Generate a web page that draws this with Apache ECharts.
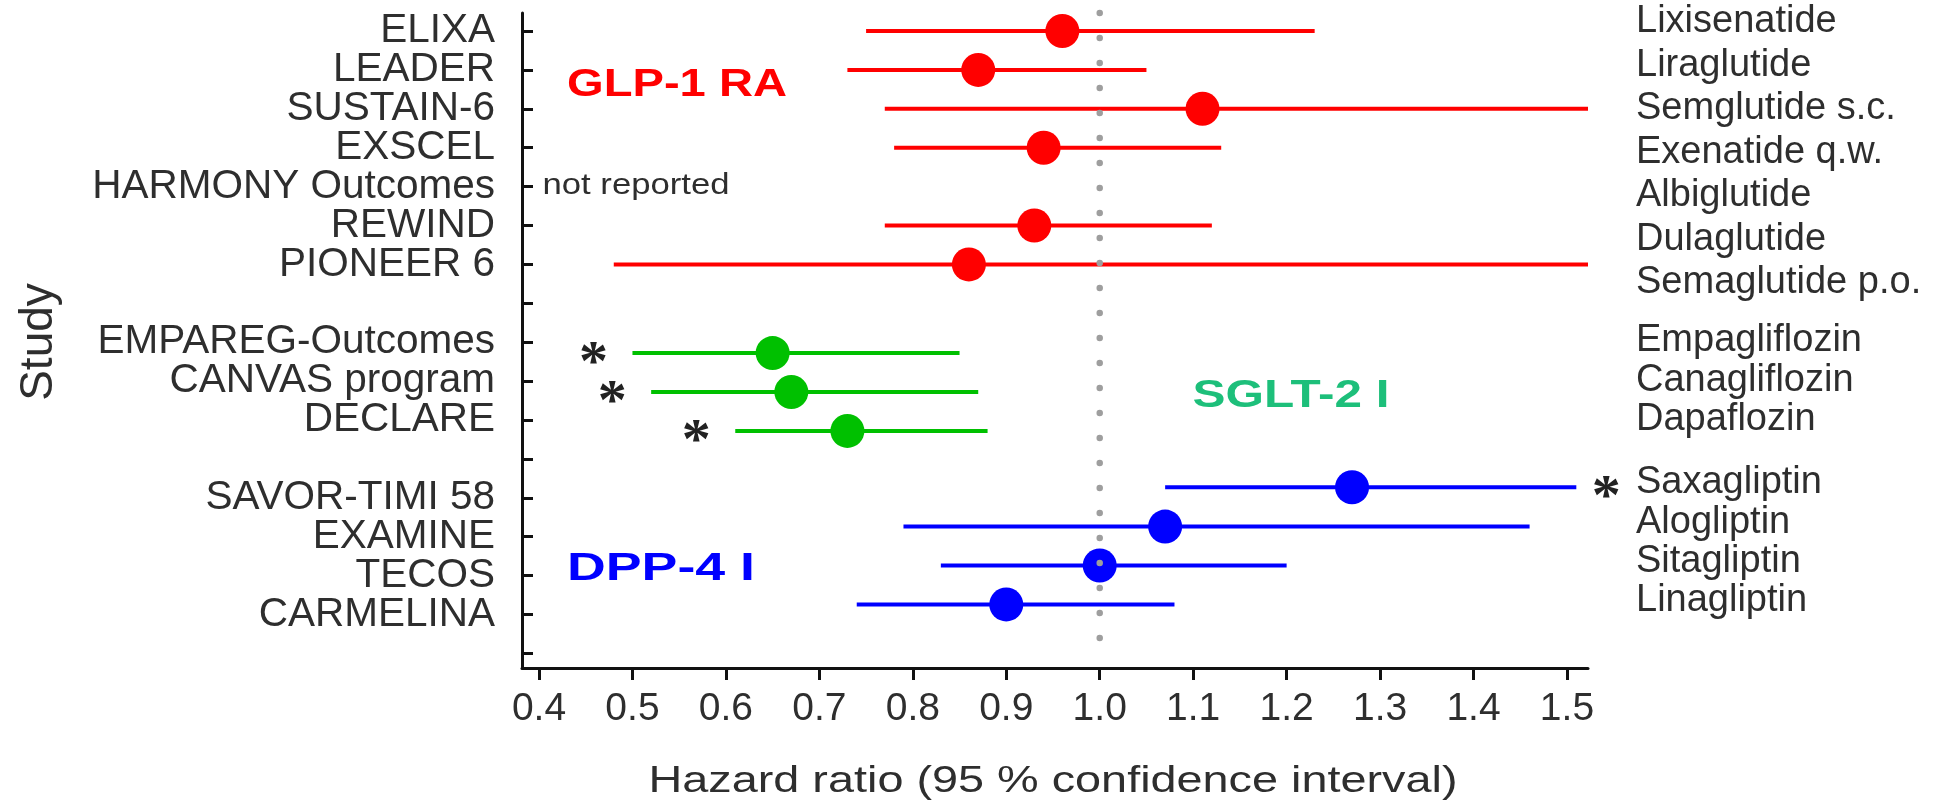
<!DOCTYPE html>
<html><head><meta charset="utf-8">
<script src="https://cdn.jsdelivr.net/npm/echarts@6/dist/echarts.min.js"></script>
<style>html,body{margin:0;padding:0;background:#fff}#c{width:1934px;height:808px}</style>
</head><body><div id="c"></div>
<script>
// ---------- data ----------
const studyLabels = ['ELIXA','LEADER','SUSTAIN-6','EXSCEL','HARMONY Outcomes','REWIND','PIONEER 6','',
  'EMPAREG-Outcomes','CANVAS program','DECLARE','',
  'SAVOR-TIMI 58','EXAMINE','TECOS','CARMELINA',''];
const xTicks = [0.4,0.5,0.6,0.7,0.8,0.9,1.0,1.1,1.2,1.3,1.4,1.5];

const glpRows = [0, 1, 2, 3, 5, 6];
const glpHR   = [0.96, 0.87, 1.11, 0.94, 0.93, 0.86];
const glpLo   = [0.75, 0.73, 0.77, 0.78, 0.77, 0.48];
const glpHi   = [1.23, 1.05, 1.61, 1.13, 1.12, 1.55];
const glpSig  = [0, 0, 0, 0, 0, 0];
const glpDrugs = ['Lixisenatide','Liraglutide','Semglutide s.c.','Exenatide q.w.','Albiglutide','Dulaglutide','Semaglutide p.o.'];

const sgltRows = [8.28, 9.28, 10.28];
const sgltHR   = [0.65, 0.67, 0.73];
const sgltLo   = [0.50, 0.52, 0.61];
const sgltHi   = [0.85, 0.87, 0.88];
const sgltSig  = [-1, -1, -1];
const sgltDrugs = ['Empagliflozin','Canagliflozin','Dapaflozin'];

const dppRows = [11.73, 12.74, 13.74, 14.74];
const dppHR   = [1.27, 1.07, 1.00, 0.90];
const dppLo   = [1.07, 0.79, 0.83, 0.74];
const dppHi   = [1.51, 1.46, 1.20, 1.08];
const dppSig  = [1, 0, 0, 0];
const dppDrugs = ['Saxagliptin','Alogliptin','Sitagliptin','Linagliptin'];

const refValue = 1.0;
const notReportedText = 'not reported';
const groupNames = ['GLP-1 RA','SGLT-2 I','DPP-4 I'];
const xTitle = 'Hazard ratio (95 % confidence interval)';
const yTitle = 'Study';

// ---------- styles ----------
const RED = '#ff0000', GREEN = '#00c000', BLUE = '#0000ff', TEAL = '#1dbf7a';
const TXT = '#2e2e2e', AX = '#111';
const FONT = '"Liberation Sans", Arial, sans-serif';
const X_MIN = 0.3818, X_MAX = 1.5225, Y_MIN = -0.463, Y_MAX = 16.375;

const chart = echarts.init(document.getElementById('c'), null, {renderer:'canvas'});

function zipBars(lo, hi, rows, sig){ return lo.map((l,i)=>[l, hi[i], rows[i], sig[i]]); }
function zipPts(hr, rows){ return hr.map((h,i)=>[h, rows[i]]); }

function barRender(color){
  return function(params, api){
    const lo = Math.max(api.value(0), X_MIN), hi = Math.min(api.value(1), X_MAX);
    const y = api.value(2), sig = api.value(3);
    const p1 = api.coord([lo, y]), p2 = api.coord([hi, y]);
    const children = [{type:'line', shape:{x1:p1[0], y1:p1[1], x2:p2[0], y2:p2[1]},
      style:{stroke:color, lineWidth:4}}];
    if (sig) {
      const ax = sig < 0 ? p1[0] - 39 : p2[0] + 30;
      children.push({type:'text', x: ax, y: p1[1] + 12,
        style:{text:'*', font:'bold 58px "Liberation Serif", serif', fill:'#222', textAlign:'center', textVerticalAlign:'middle'}});
    }
    return {type:'group', children};
  };
}

const measureCtx = document.createElement('canvas').getContext('2d');
function scaledText(text, font, color, cx, cy, targetW, rot){
  measureCtx.font = font;
  const w = measureCtx.measureText(text).width;
  return {type:'text', x:cx, y:cy, rotation: rot||0, scaleX: targetW ? targetW / w : 1, z: 50,
    style:{text, font, fill:color, textAlign:'center', textVerticalAlign:'middle'}};
}

const graphics = [];
function drugBlock(names, x, y0, step){
  names.forEach((n,i)=>graphics.push({type:'text', x, y: y0 + i*step, z:50,
    style:{text:n, font:'38px ' + FONT, fill:TXT, textAlign:'left', textVerticalAlign:'middle'}}));
}
drugBlock(glpDrugs, 1636, 22, 43.5);
drugBlock(sgltDrugs, 1636, 341, 39.5);
drugBlock(dppDrugs, 1636, 483, 39.3);
graphics.push(scaledText(groupNames[0], 'bold 38px ' + FONT, RED, 677, 86, 220));
graphics.push(scaledText(groupNames[1], 'bold 38px ' + FONT, TEAL, 1291, 397, 197));
graphics.push(scaledText(groupNames[2], 'bold 38px ' + FONT, BLUE, 661, 570, 188));
graphics.push(scaledText(notReportedText, '30px ' + FONT, TXT, 636, 186, 187));
graphics.push(scaledText(xTitle, '37px ' + FONT, TXT, 1053, 782, 809));
graphics.push(scaledText(yTitle, '46px ' + FONT, TXT, 39, 342, 0, Math.PI/2));

const rowIdx = studyLabels.map((s,i)=>i);
// an empty guard label above the first row keeps the axis' min/max overlap check from hiding real labels
const labelVals = [Y_MIN + 0.05].concat(rowIdx);

const option = {
  animation: false,
  backgroundColor: '#fff',
  grid: {left: 522, right: 346, top: 13, bottom: 140, containLabel: false},
  xAxis: {
    type: 'value', min: X_MIN, max: X_MAX,
    axisLine: {show: true, onZero: false, lineStyle: {color: AX, width: 3}},
    axisTick: {show: true, length: 12, lineStyle: {color: AX, width: 3}, customValues: xTicks},
    axisLabel: {customValues: xTicks, showMinLabel: true, showMaxLabel: true, hideOverlap: false,
      formatter: v => v.toFixed(1), fontSize: 39, fontFamily: FONT, color: TXT, margin: 22},
    splitLine: {show: false}
  },
  yAxis: {
    type: 'value', inverse: true, min: Y_MIN, max: Y_MAX,
    axisLine: {show: true, onZero: false, lineStyle: {color: AX, width: 3}},
    axisTick: {show: true, inside: true, length: 11, lineStyle: {color: AX, width: 3},
      customValues: rowIdx},
    axisLabel: {customValues: labelVals, showMinLabel: true, showMaxLabel: true, hideOverlap: false,
      formatter: v => (Number.isInteger(v) ? studyLabels[v] : '') || '', fontSize: 40.5,
      fontFamily: FONT, color: TXT, margin: 27},
    splitLine: {show: false}
  },
  graphic: graphics,
  series: [
    {type:'custom', renderItem: barRender(RED), data: zipBars(glpLo, glpHi, glpRows, glpSig), encode:{x:[0,1], y:2}, clip:false, z:2, silent:true},
    {type:'custom', renderItem: barRender(GREEN), data: zipBars(sgltLo, sgltHi, sgltRows, sgltSig), encode:{x:[0,1], y:2}, clip:false, z:2, silent:true},
    {type:'custom', renderItem: barRender(BLUE), data: zipBars(dppLo, dppHi, dppRows, dppSig), encode:{x:[0,1], y:2}, clip:false, z:2, silent:true},
    {type:'scatter', data: zipPts(glpHR, glpRows), symbolSize: 34, itemStyle:{color:RED, opacity:1}, z:3, silent:true},
    {type:'scatter', data: zipPts(sgltHR, sgltRows), symbolSize: 34, itemStyle:{color:GREEN, opacity:1}, z:3, silent:true},
    {type:'scatter', data: zipPts(dppHR, dppRows), symbolSize: 34, itemStyle:{color:BLUE, opacity:1}, z:3, silent:true},
    {type:'line', data: [[refValue, Y_MIN], [refValue, 15.85]], showSymbol:false, symbol:'none', clip:false, z:5, silent:true,
      lineStyle:{color:'#9e9e9e', width:6.5, type:[0, 25], cap:'round'}}
  ]
};
chart.setOption(option);
</script>
</body></html>
